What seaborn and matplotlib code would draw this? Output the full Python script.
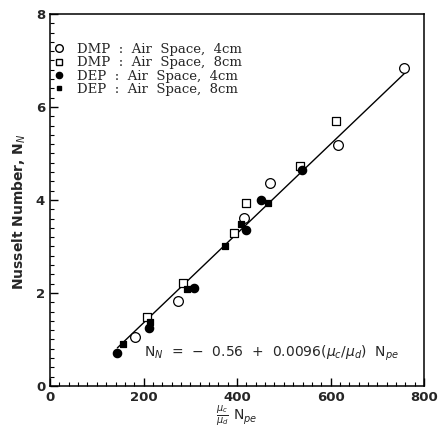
import matplotlib
matplotlib.use("Agg")
import matplotlib.pyplot as plt
import seaborn as sns
from matplotlib.ticker import MultipleLocator

sns.set_theme(style="white")
plt.rcParams['font.family'] = ['DejaVu Sans']

# Data
dmp4_x = [182, 273, 415, 471, 616, 758]
dmp4_y = [1.05, 1.83, 3.62, 4.37, 5.18, 6.84]
dmp8_x = [208, 284, 394, 419, 535, 612]
dmp8_y = [1.49, 2.22, 3.30, 3.94, 4.73, 5.70]
dep4_x = [144, 212, 307, 419, 451, 538]
dep4_y = [0.71, 1.25, 2.10, 3.35, 4.00, 4.65]
dep8_x = [157, 213, 292, 374, 408, 467]
dep8_y = [0.90, 1.38, 2.08, 3.01, 3.48, 3.93]
line_x = [144, 760]
line_y = [0.82, 6.74]

labels = ["DMP  :  Air  Space,  4cm", "DMP  :  Air  Space,  8cm",
          "DEP  :  Air  Space,  4cm", "DEP  :  Air  Space,  8cm"]

fig = plt.figure(figsize=(4.39, 4.45), dpi=100)
ax = fig.add_axes([0.114, 0.1326, 0.852, 0.836])

sns.lineplot(x=line_x, y=line_y, ax=ax, color="black", linewidth=1.0)

series = [
    (dmp4_x, dmp4_y, "o", "white", 7),
    (dmp8_x, dmp8_y, "s", "white", 6),
    (dep4_x, dep4_y, "o", "black", 6),
    (dep8_x, dep8_y, "s", "black", 5),
]
handles = []
for (xs, ys, m, fc, s), lab in zip(series, labels):
    sns.scatterplot(x=xs, y=ys, ax=ax, marker=m, facecolor=fc,
                    edgecolor="black", linewidth=0.9, s=s**2, zorder=3)
    h = plt.Line2D([], [], marker=m, linestyle="none", markerfacecolor=fc,
                   markeredgecolor="black", markersize=s - 1.5, label=lab)
    handles.append(h)

ax.set_xlim(0, 800)
ax.set_ylim(0, 8)
ax.xaxis.set_major_locator(MultipleLocator(200))
ax.xaxis.set_minor_locator(MultipleLocator(20))
ax.yaxis.set_major_locator(MultipleLocator(2))
ax.yaxis.set_minor_locator(MultipleLocator(0.2))
ax.tick_params(axis="both", which="both", direction="in", bottom=True,
               left=True, top=False, right=False, color="black")
ax.tick_params(which="major", length=6, width=1)
ax.tick_params(which="minor", length=3, width=0.8)
for lab in ax.get_xticklabels() + ax.get_yticklabels():
    lab.set_fontweight("bold")
    lab.set_fontsize(9.5)
for sp in ax.spines.values():
    sp.set_color("black")
    sp.set_linewidth(1.1)

ax.set_ylabel("Nusselt Number, N$_N$", fontsize=10, fontweight="bold")
ax.yaxis.set_label_coords(-0.058, 0.468)
ax.set_xlabel(r"$\frac{\mu_c}{\mu_d}$ N$_{pe}$", fontsize=10, labelpad=0)

leg = ax.legend(handles=handles, loc="upper left", frameon=False,
                bbox_to_anchor=(0.005, 0.922), borderaxespad=0, borderpad=0,
                handlelength=1.0, handletextpad=0.9,
                labelspacing=0.02, prop={"family": "DejaVu Serif", "size": 9.5})

ax.text(200, 0.71,
        r"N$_N$  =  $-$  0.56  +  0.0096($\mu_c$/$\mu_d$)  N$_{pe}$",
        fontsize=10, va="center")

fig.savefig("out.png", dpi=100)
